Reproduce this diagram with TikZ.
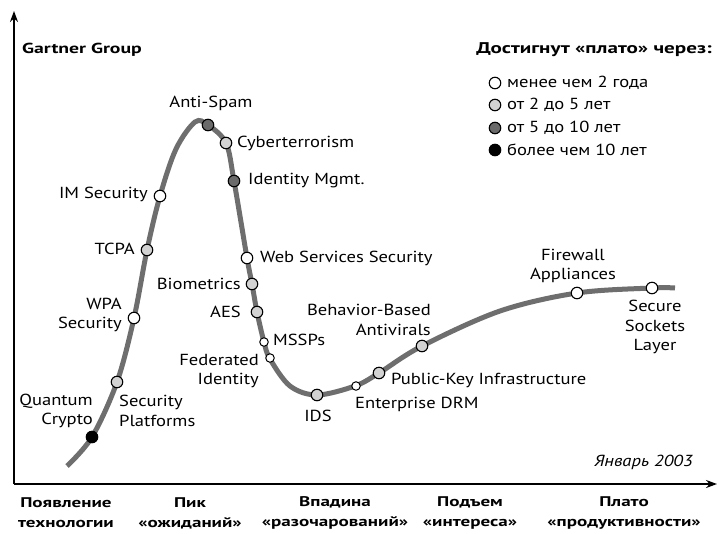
\documentclass[tikz,border=0pt]{standalone}
\usepackage{fontspec}
\setmainfont{PT Sans}[FakeStretch=1.16, BoldFeatures={FakeStretch=1.36}, ItalicFeatures={FakeStretch=1.16}]
\usetikzlibrary{arrows.meta}
\definecolor{curvegray}{HTML}{6E6E6E}
\definecolor{lightdot}{HTML}{D2D2D2}
\definecolor{darkdot}{HTML}{6A6A6A}
\tikzset{
  axis/.style={line width=2.6pt, -{Stealth[length=11pt,width=8pt]}},
  hype/.style={line width=5pt, curvegray, line cap=butt},
  dotbase/.style={circle, draw=black, line width=1.1pt, inner sep=0pt, minimum size=11.5pt},
  dotA/.style={dotbase, fill=white},
  dotB/.style={dotbase, fill=lightdot},
  dotC/.style={dotbase, fill=darkdot},
  dotD/.style={dotbase, fill=black},
  dotsmall/.style={dotbase, fill=white, minimum size=8.5pt, line width=1pt},
  lbl/.style={font=\fontsize{16}{19.5}\selectfont, inner sep=0pt},
  heading/.style={font=\fontsize{14.5}{17}\selectfont\bfseries, inner sep=0pt},
  phase/.style={font=\fontsize{14}{20}\selectfont\bfseries, inner sep=0pt, align=center},
}
\begin{document}
\begin{tikzpicture}[x=1pt, y=-1pt]
\useasboundingbox (0,0) rectangle (719,533);

% axes
\coordinate (origin) at (14,484);
\coordinate (ytip) at (14,11);
\coordinate (xtip) at (717,484);
\draw[axis] (origin) -- (ytip);
\draw[axis] (origin) -- (xtip);

% hype curve
\draw[hype] plot[smooth, tension=0.55] coordinates {
  (67,466) (92,437) (117,382) (134,318) (147,250) (160,196)
  (176,149) (195,122) (208,125) (226,143) (234,181)
  (247,258) (252,284) (257,312) (264,342) (270,359)
  (290,386) (317,395) (355,386) (379,373) (422,346)
  (500,311) (577,293) (652,288) (675,288)};

% technologies on the curve
\node[dotD] (qc)   at (92,437) {};
\node[dotB] (sp)   at (117,382) {};
\node[dotA] (wpa)  at (134,318) {};
\node[dotB] (tcpa) at (147,250) {};
\node[dotA] (ims)  at (160,196) {};
\node[dotC] (as)   at (208,125) {};
\node[dotB] (cyb)  at (226,143) {};
\node[dotC] (idm)  at (234,181) {};
\node[dotA] (wss)  at (247,258) {};
\node[dotB] (bio)  at (252,284) {};
\node[dotB] (aes)  at (257,312) {};
\node[dotsmall] (mssp) at (264,342) {};
\node[dotsmall] (fed)  at (270,358) {};
\node[dotB] (ids)  at (317,395) {};
\node[dotsmall] (drm)  at (356,386) {};
\node[dotB] (pki)  at (379,373) {};
\node[dotB] (bba)  at (422,346) {};
\node[dotA] (fw)   at (577,293) {};
\node[dotA] (ssl)  at (652,288) {};

% labels
\node[lbl] at (211,103) {Anti-Spam};
\node[lbl, anchor=west] at (237,143) {Cyberterrorism};
\node[lbl, anchor=west] at (248,181) {Identity Mgmt.};
\node[lbl, anchor=east] at (148,194) {IM Security};
\node[lbl, anchor=east] at (135,249) {TCPA};
\node[lbl, anchor=east, align=right] at (122,315) {WPA\\Security};
\node[lbl, anchor=east, align=right] at (93,411) {Quantum\\Crypto};
\node[lbl, anchor=west, align=left] at (119,411) {Security\\Platforms};
\node[lbl, anchor=west] at (260,258) {Web Services Security};
\node[lbl, anchor=east] at (241,284) {Biometrics};
\node[lbl, anchor=east] at (241,312) {AES};
\node[lbl, anchor=west] at (273,340) {MSSPs};
\node[lbl, anchor=east, align=right] at (259,371) {Federated\\Identity};
\node[lbl] at (318,416) {IDS};
\node[lbl, anchor=west] at (355,404) {Enterprise DRM};
\node[lbl, anchor=west] at (391,380) {Public-Key Infrastructure};
\node[lbl, anchor=east, align=right] at (431,320) {Behavior-Based\\Antivirals};
\node[lbl, align=center] at (573,266) {Firewall\\Appliances};
\node[lbl, align=center] at (655,327) {Secure\\Sockets\\Layer};
\node[lbl, anchor=east, font=\fontsize{16}{19}\selectfont\itshape] at (693,462) {Январь 2003};

\node[heading, anchor=west] at (22,50) {Gartner Group};

% legend
\node[heading, anchor=east, font=\fontsize{15.5}{18}\selectfont\bfseries] (ltitle) at (712,50) {Достигнут «плато» через:};
\node[dotA] (l1) at (495,83) {};
\node[dotB] (l2) at (495,105) {};
\node[dotC] (l3) at (495,128) {};
\node[dotD] (l4) at (495,150) {};
\node[lbl, anchor=west] at (507,83) {менее чем 2 года};
\node[lbl, anchor=west] at (507,105) {от 2 до 5 лет};
\node[lbl, anchor=west] at (507,128) {от 5 до 10 лет};
\node[lbl, anchor=west] at (507,150) {более чем 10 лет};

% phases along the time axis
\node[phase] at (66,513) {Появление\\технологии};
\node[phase] at (190,513) {Пик\\«ожиданий»};
\node[phase] at (335,513) {Впадина\\«разочарований»};
\node[phase] at (470,513) {Подъем\\«интереса»};
\node[phase] at (624,513) {Плато\\«продуктивности»};
\end{tikzpicture}
\end{document}
